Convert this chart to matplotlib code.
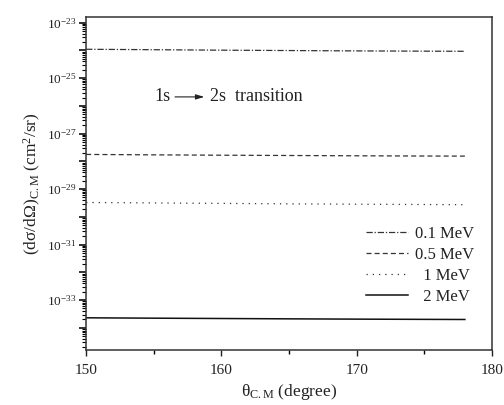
import matplotlib
matplotlib.use('Agg')
import matplotlib.pyplot as plt
from matplotlib.ticker import LogLocator, FixedLocator, NullFormatter, MultipleLocator
import numpy as np

plt.rcParams['font.family'] = ['Liberation Serif', 'DejaVu Serif']
plt.rcParams['mathtext.fontset'] = 'custom'
plt.rcParams['mathtext.rm'] = 'Liberation Serif'
plt.rcParams['mathtext.it'] = 'Liberation Serif:italic'

# angles (degree) and cross sections (cm^2/sr)
theta = [150, 155, 160, 165, 170, 175, 178]
cs_01 = [1.10e-24, 1.06e-24, 1.02e-24, 0.99e-24, 0.96e-24, 0.94e-24, 0.93e-24]
cs_05 = [1.78e-28, 1.72e-28, 1.67e-28, 1.63e-28, 1.59e-28, 1.56e-28, 1.55e-28]
cs_1 = [3.30e-30, 3.18e-30, 3.06e-30, 2.95e-30, 2.86e-30, 2.79e-30, 2.75e-30]
cs_2 = [2.30e-34, 2.23e-34, 2.17e-34, 2.11e-34, 2.06e-34, 2.02e-34, 2.00e-34]
labels = ['0.1 MeV', '0.5 MeV', '  1 MeV', '  2 MeV']

fig = plt.figure(figsize=(5.04, 4.05), dpi=100)
ax = fig.add_axes([0.171, 0.136, 0.805, 0.822])

c = '#333333'
ax.plot(theta, cs_01, color=c, lw=0.9, dashes=(5, 1.5, 1, 1.5), label=labels[0])
ax.plot(theta, cs_05, color=c, lw=0.9, dashes=(4, 2.5), label=labels[1])
ax.plot(theta, cs_1, color=c, lw=0.9, dashes=(1, 4), label=labels[2])
ax.plot(theta, cs_2, color='#111111', lw=1.1, label=labels[3])

ax.set_yscale('log')
ax.set_xlim(150, 180)
ax.set_ylim(1.6e-35, 1.6e-23)

ax.xaxis.set_major_locator(FixedLocator([150, 160, 170, 180]))
ax.xaxis.set_minor_locator(MultipleLocator(5))
ax.yaxis.set_major_locator(FixedLocator([10.0**e for e in range(-35, -22)]))
ax.yaxis.set_minor_locator(LogLocator(base=10, subs=np.arange(2, 10), numticks=30))
ax.yaxis.set_minor_formatter(NullFormatter())
ax.set_yticklabels(['$10^{%d}$' % e if e % 2 == 1 else '' for e in range(-35, -22)])

ax.tick_params(axis='x', which='major', direction='out', length=4, width=1, labelsize=11, pad=6, colors='#222222')
ax.tick_params(axis='x', which='minor', direction='out', length=3, width=1)
ax.tick_params(axis='y', which='major', direction='out', length=5, width=1.3, labelsize=9.5, pad=2, colors='#222222')
ax.tick_params(axis='y', which='minor', direction='out', length=3, width=0.8)
for s in ax.spines.values():
    s.set_linewidth(1.1)
    s.set_color('#333333')

ax.set_xlabel('θ$_{\\rm C.M}$ (degree)', fontsize=12.5, labelpad=4, color='#222222')
ax.set_ylabel('(dσ/dΩ)$_{\\rm C.M}$ (cm$^{\\rm 2}$/sr)', fontsize=12.5, labelpad=3, color='#222222')

# transition annotation
ax.text(0.168, 0.76, '1s', transform=ax.transAxes, fontsize=13, color='#222222', va='center')
ax.annotate('', xy=(0.298, 0.76), xytext=(0.212, 0.76), xycoords='axes fraction',
            arrowprops=dict(arrowstyle='-|>,head_length=0.5,head_width=0.15', color='#222222', lw=0.8))
ax.text(0.304, 0.76, '2s  transition', transform=ax.transAxes, fontsize=13, color='#222222', va='center')

leg = ax.legend(loc='lower right', bbox_to_anchor=(0.985, 0.10), frameon=False, fontsize=12,
                handlelength=2.5, handletextpad=0.45, labelspacing=0.3, borderpad=0.2)
for t in leg.get_texts():
    t.set_color('#222222')

fig.savefig('out.png', dpi=100)
